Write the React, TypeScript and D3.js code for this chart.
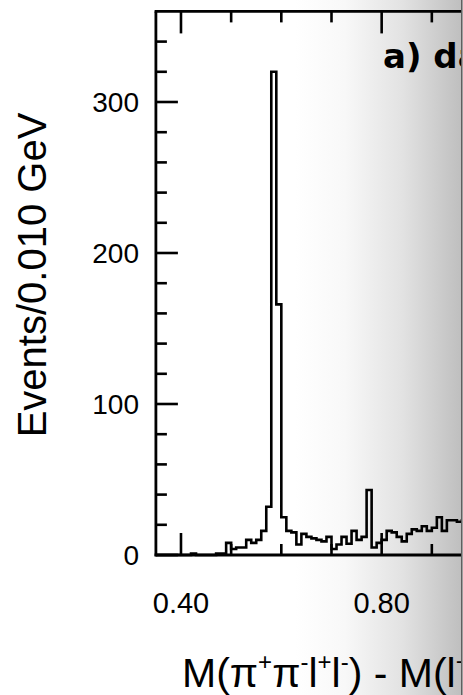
import React from "react";
import * as d3 from "d3";

const W = 463;
const H = 695;

// histogram bins (lower edge, GeV) and counts per 0.010 GeV
const binStarts = [
  0.35, 0.36, 0.37, 0.38, 0.39, 0.40, 0.41, 0.42, 0.43, 0.44,
  0.45, 0.46, 0.47, 0.48, 0.49, 0.50, 0.51, 0.52, 0.53, 0.54,
  0.55, 0.56, 0.57, 0.58, 0.59, 0.60, 0.61, 0.62, 0.63, 0.64,
  0.65, 0.66, 0.67, 0.68, 0.69, 0.70, 0.71, 0.72, 0.73, 0.74,
  0.75, 0.76, 0.77, 0.78, 0.79, 0.80, 0.81, 0.82, 0.83, 0.84,
  0.85, 0.86, 0.87, 0.88, 0.89, 0.90, 0.91, 0.92, 0.93, 0.94,
  0.95, 0.96,
];
const counts = [
  0, 0, 0, 0, 0, 0, 0, 1, 0, 0,
  0, 0, 1, 1, 8, 4, 5, 5, 10, 8,
  10, 16, 32, 320, 166, 25, 16, 15, 7, 14,
  12, 11, 10, 9, 12, 4, 7, 12, 7.5, 16,
  10, 12, 43, 5, 8, 10, 16, 15, 12, 9,
  14, 17, 16, 19, 16, 18, 25, 16, 23, 23,
  22, 23,
];
const binWidth = 0.01;

const yLabelTicks = [0, 100, 200, 300];
const yLabels = ["0", "100", "200", "300"];
const yMinorTicks = [20, 40, 60, 80, 120, 140, 160, 180, 220, 240, 260, 280, 320, 340];
const xLabelTicks = [0.4, 0.8];
const xLabels = ["0.40", "0.80"];
const xMinorTicks = [0.5, 0.6, 0.7, 0.9];

export default function App() {
  const x = d3.scaleLinear().domain([0.35, 1.0]).range([155.9, 482]);
  const y = d3.scaleLinear().domain([0, 360]).range([555, 11.4]);

  const pts: [number, number][] = binStarts.map((b, i) => [x(b), y(counts[i])]);
  const last = binStarts.length - 1;
  pts.push([x(binStarts[last] + binWidth), y(counts[last])]);
  const line = d3.line().curve(d3.curveStepAfter);
  const histPath = line(pts) || "";

  const x0 = x(0.35);
  const yb = y(0);
  const yt = y(360);
  const majorLen = 22;
  const minorLen = 11;
  const tickW = 2.6;

  return (
    <svg
      width={W}
      height={H}
      style={{ position: "absolute", left: 0, top: 0, background: "#fff" }}
    >
      <defs>
        <linearGradient id="fade" gradientUnits="userSpaceOnUse" x1={295} y1={0} x2={461} y2={0}>
          <stop offset="0" stopColor="#ffffff" />
          <stop offset="0.3" stopColor="#f8f8f8" />
          <stop offset="0.65" stopColor="#e2e2e2" />
          <stop offset="1" stopColor="#bfbfbf" />
        </linearGradient>
        <clipPath id="clip">
          <rect x={0} y={0} width={461} height={H} />
        </clipPath>
      </defs>
      <rect x={0} y={0} width={W} height={H} fill="url(#fade)" />
      <g clipPath="url(#clip)">
        {/* frame */}
        <line x1={x0} x2={x0} y1={yt} y2={yb + 1.3} stroke="#000" strokeWidth={2.8} />
        <line x1={x0 - 1.3} x2={W} y1={yb} y2={yb} stroke="#000" strokeWidth={2.8} />
        <line x1={x0 - 1.3} x2={W} y1={yt} y2={yt} stroke="#000" strokeWidth={2.8} />

        {/* y ticks */}
        {yLabelTicks.map((v) => (
          <line key={"ym" + v} x1={x0} x2={x0 + majorLen} y1={y(v)} y2={y(v)} stroke="#000" strokeWidth={tickW} />
        ))}
        {yMinorTicks.map((v) => (
          <line key={"yn" + v} x1={x0} x2={x0 + minorLen} y1={y(v)} y2={y(v)} stroke="#000" strokeWidth={tickW} />
        ))}

        {/* x ticks bottom and top */}
        {xLabelTicks.map((v) => (
          <g key={"xm" + v}>
            <line x1={x(v)} x2={x(v)} y1={yb} y2={yb - majorLen} stroke="#000" strokeWidth={tickW} />
            <line x1={x(v)} x2={x(v)} y1={yt} y2={yt + majorLen} stroke="#000" strokeWidth={tickW} />
          </g>
        ))}
        {xMinorTicks.map((v) => (
          <g key={"xn" + v}>
            <line x1={x(v)} x2={x(v)} y1={yb} y2={yb - minorLen} stroke="#000" strokeWidth={tickW} />
            <line x1={x(v)} x2={x(v)} y1={yt} y2={yt + minorLen} stroke="#000" strokeWidth={tickW} />
          </g>
        ))}

        {/* histogram */}
        <path d={histPath} fill="none" stroke="#000" strokeWidth={2.6} strokeLinejoin="miter" />

        {/* label */}
        <text x={383} y={68} fontFamily="DejaVu Sans" fontWeight="bold" fontSize={34} fill="#000">
          a) data
        </text>

        {/* y tick labels */}
        {yLabelTicks.map((v, i) => (
          <text
            key={"yl" + v}
            x={139}
            y={y(v) + 10}
            textAnchor="end"
            fontFamily="Liberation Sans, Arial, sans-serif"
            fontSize={28}
            fill="#000"
          >
            {yLabels[i]}
          </text>
        ))}

        {/* x tick labels */}
        {xLabelTicks.map((v, i) => (
          <text
            key={"xl" + v}
            x={x(v)}
            y={613}
            textAnchor="middle"
            fontFamily="Liberation Sans, Arial, sans-serif"
            fontSize={29}
            fill="#000"
          >
            {xLabels[i]}
          </text>
        ))}

        {/* y title */}
        <text
          transform="translate(46,275) rotate(-90)"
          textAnchor="middle"
          fontFamily="Liberation Sans, Arial, sans-serif"
          fontSize={40}
          fill="#000"
        >
          Events/0.010 GeV
        </text>

        {/* x title */}
        <text x={182} y={687} fontFamily="Liberation Sans, Arial, sans-serif" fontSize={41} fill="#000">
          <tspan>M(π</tspan>
          <tspan fontSize={24} dy={-17}>+</tspan>
          <tspan dy={17}>π</tspan>
          <tspan fontSize={24} dy={-17}>-</tspan>
          <tspan dy={17}>l</tspan>
          <tspan fontSize={24} dy={-17}>+</tspan>
          <tspan dy={17}>l</tspan>
          <tspan fontSize={24} dy={-17}>-</tspan>
          <tspan dy={17}>) - M(l</tspan>
          <tspan fontSize={24} dy={-17}>+</tspan>
          <tspan dy={17}>l</tspan>
          <tspan fontSize={24} dy={-17}>-</tspan>
          <tspan dy={17}>)</tspan>
        </text>
      </g>
      <line x1={461.7} x2={461.7} y1={0} y2={H} stroke="#555" strokeWidth={1.2} />
    </svg>
  );
}
